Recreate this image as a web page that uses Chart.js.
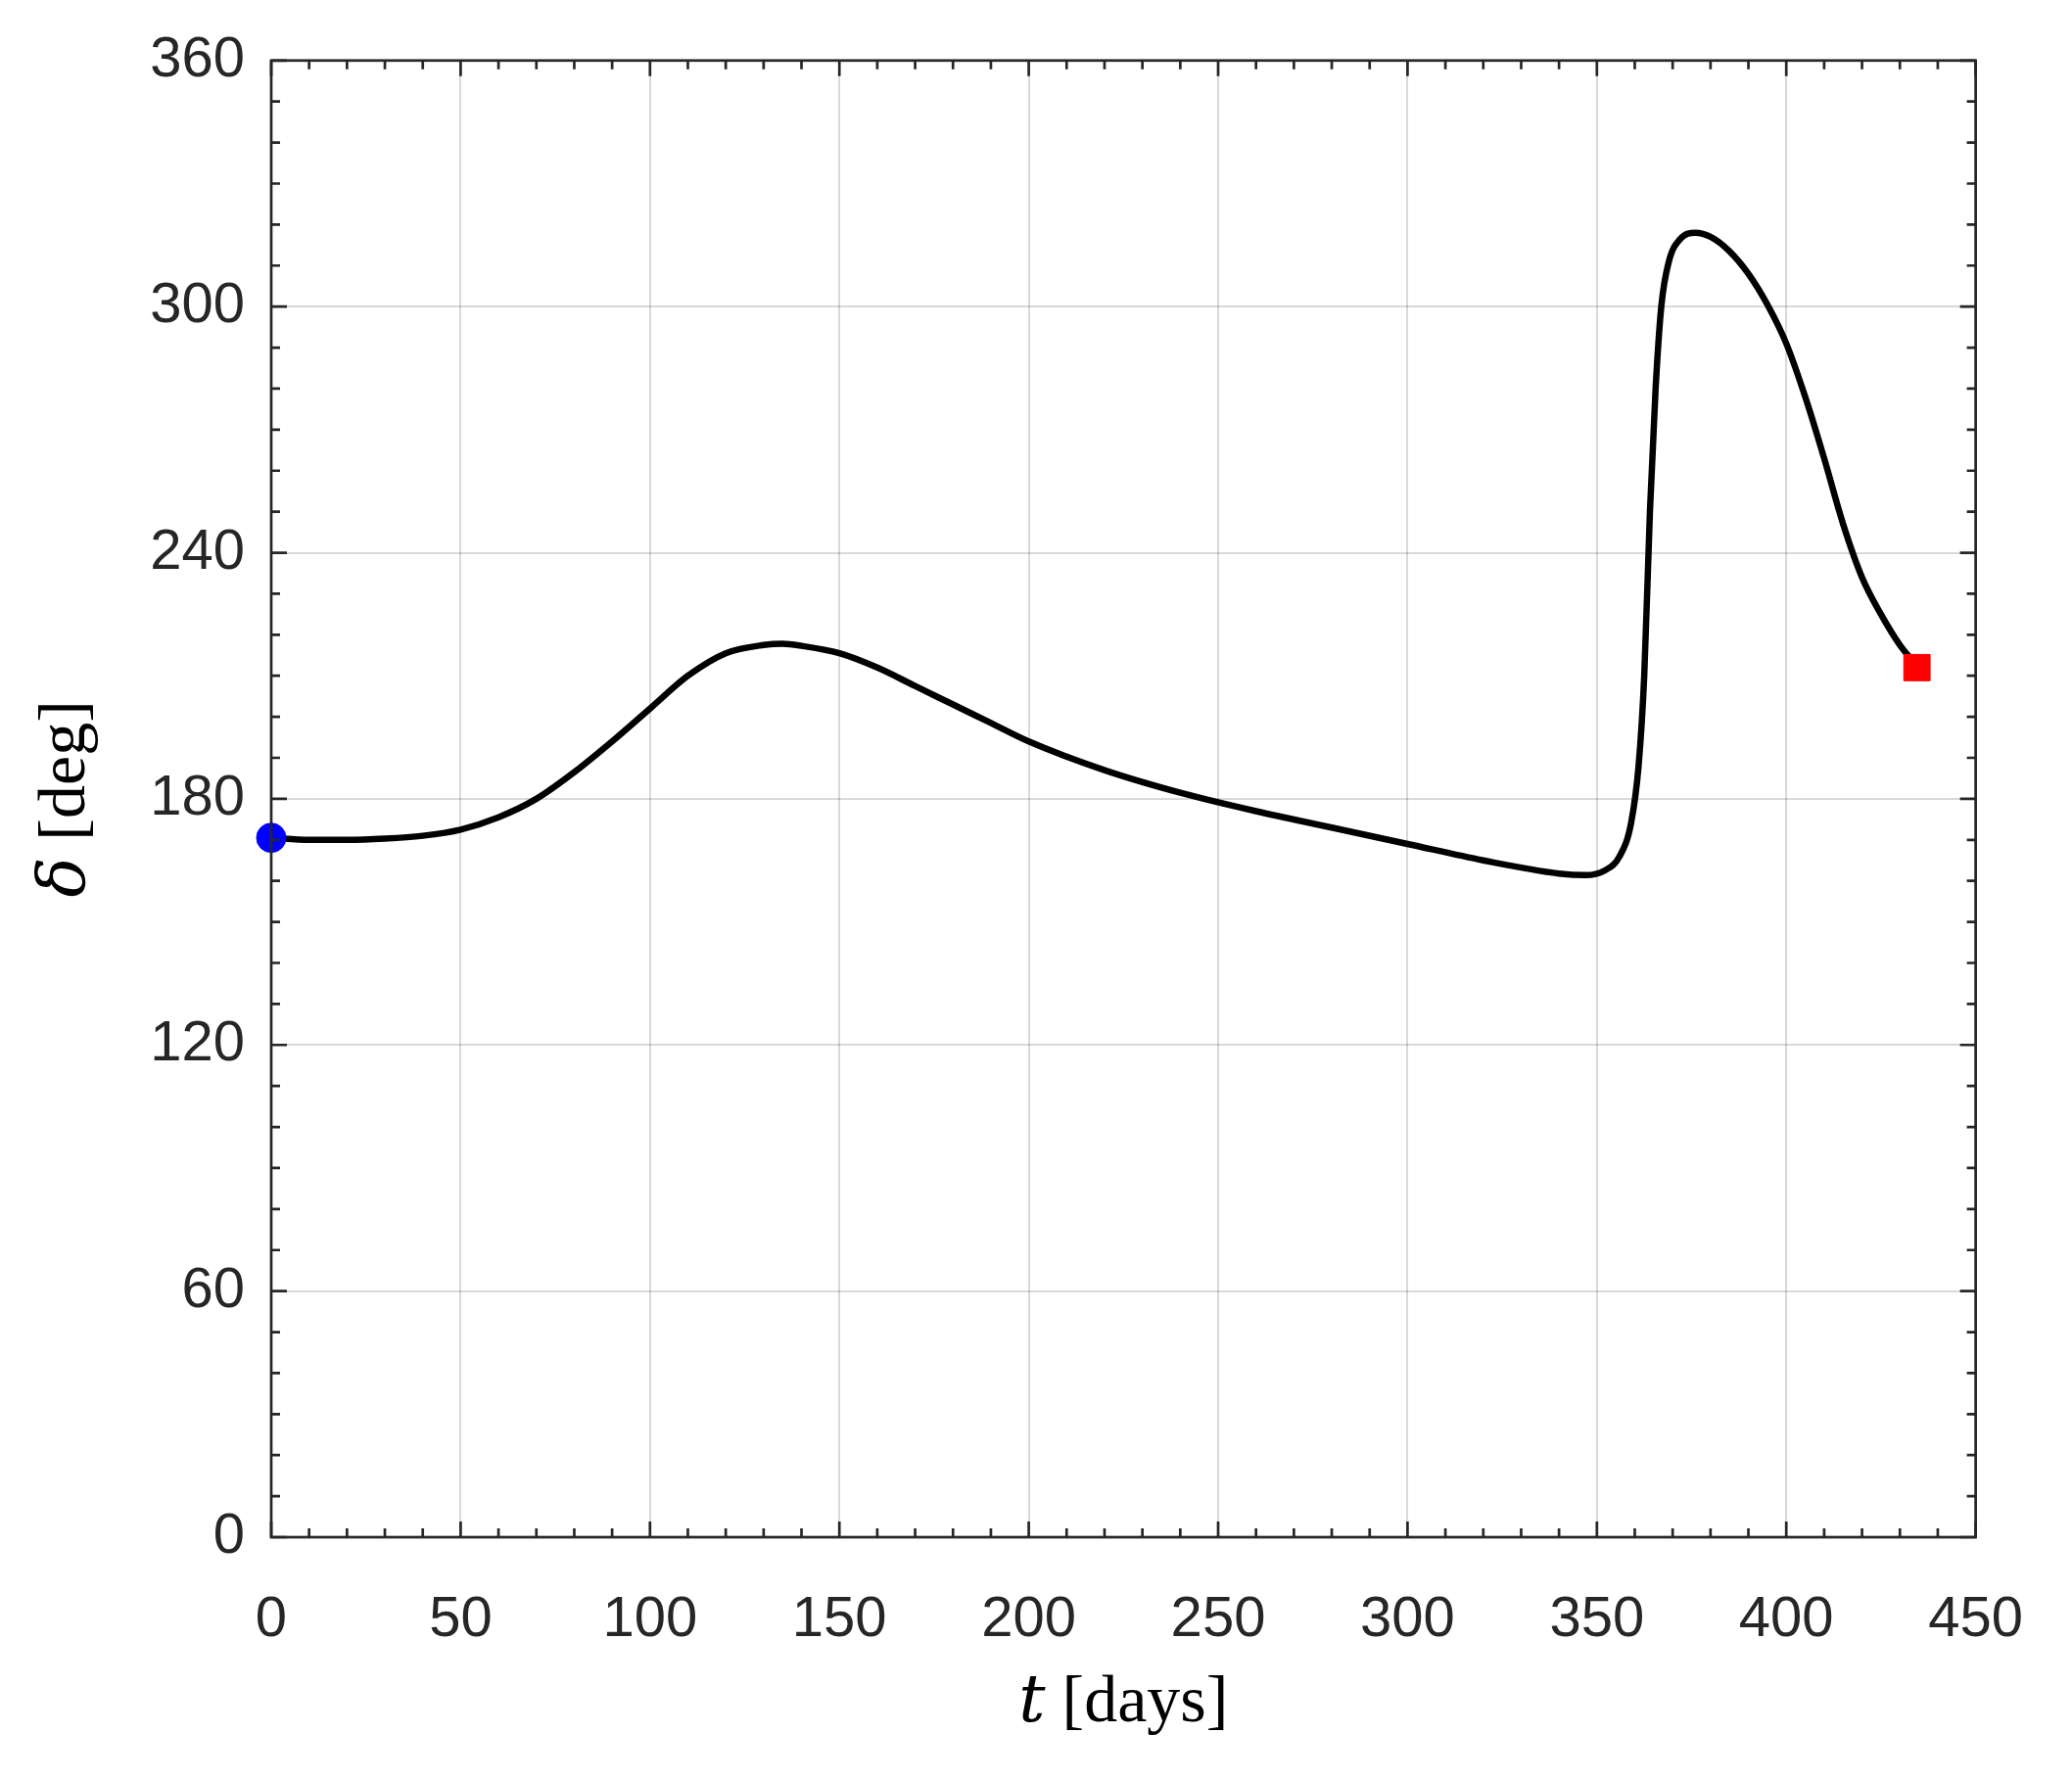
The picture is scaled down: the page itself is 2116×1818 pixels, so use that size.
<!DOCTYPE html>
<html><head><meta charset="utf-8">
<script src="https://cdn.jsdelivr.net/npm/chart.js@4"></script>
<style>html,body{margin:0;padding:0;background:#fff}#c{display:block}</style>
</head><body>
<div style="width:2116px;height:1818px"><canvas id="c" width="2116" height="1818"></canvas></div>
<script>
const tDays = [0,10,20,30,40,50,60,70,80,90,100,110,120,130,135,140,150,160,170,180,190,200,220,240,260,280,300,320,340,347,352,356,359,361,362.5,364,365.5,367,369,372,376,380,385,390,395,400,405,410,415,420,425,430,434];
const deltaDeg = [170.5,170,170,170.3,171,172.5,175.5,180,186.5,194,202,210,215.5,217.5,217.8,217.3,215.5,212,207.5,203,198.5,194,187,181.5,177,173,169,165,161.8,161.4,162.5,166,174,188,210,250,280,300,311,316.5,318,317,313.5,308,300.5,291,278,263,247,234,225,217.5,213];
const startPt = [{x:0,y:170.5}];
const endPt = [{x:434.5,y:212}];
const xTicks = [0,50,100,150,200,250,300,350,400,450];
const yTicks = [0,60,120,180,240,300,360];

const frame = {
  id:'frame',
  afterDraw(ch){
    const c=ch.ctx, a=ch.chartArea, xs=ch.scales.x, ys=ch.scales.y;
    c.save();
    c.strokeStyle='#262626'; c.lineWidth=2.7;
    c.strokeRect(a.left,a.top,a.right-a.left,a.bottom-a.top);
    c.beginPath();
    for(let v=0;v<=450;v+=10){
      const p=xs.getPixelForValue(v), L=(v%50===0)?16:9;
      c.moveTo(p,a.bottom);c.lineTo(p,a.bottom-L);
      c.moveTo(p,a.top);c.lineTo(p,a.top+L);
    }
    for(let v=0;v<=360;v+=10){
      const p=ys.getPixelForValue(v), L=(v%60===0)?16:9;
      c.moveTo(a.left,p);c.lineTo(a.left+L,p);
      c.moveTo(a.right,p);c.lineTo(a.right-L,p);
    }
    c.stroke();
    c.fillStyle='#000';
    c.textBaseline='middle';
    const F=68;
    const it='italic '+F+'px "DejaVu Serif","Liberation Serif",serif';
    const rm=F+'px "Liberation Serif","DejaVu Serif",serif';
    const cx=(a.left+a.right)/2, cy=1740;
    c.font=it; const tw=c.measureText('t').width;
    c.font=rm; const rest=' [days]', rw=c.measureText(rest).width;
    let x0=cx-(tw+rw)/2;
    c.textAlign='left';
    c.font=it; c.fillText('t',x0,cy);
    c.font=rm; c.fillText(rest,x0+tw,cy);
    c.translate(68,(a.top+a.bottom)/2); c.rotate(-Math.PI/2);
    c.font=it; const dw=c.measureText('δ').width;
    c.font=rm; const r2=' [deg]', r2w=c.measureText(r2).width;
    x0=-(dw+r2w)/2;
    c.font=it; c.fillText('δ',x0,0);
    c.font=rm; c.fillText(r2,x0+dw,0);
    c.restore();
  }
};

new Chart(document.getElementById('c'),{
  type:'scatter',
  data:{datasets:[
    {data:tDays.map((t,i)=>({x:t,y:deltaDeg[i]})),showLine:true,borderColor:'#000',borderWidth:6.5,pointRadius:0,cubicInterpolationMode:'monotone',order:2},
    {data:startPt,pointStyle:'circle',pointRadius:15,backgroundColor:'#0000ff',borderColor:'#0000ff',order:1,clip:false},
    {data:endPt,pointStyle:'rect',pointRadius:19,backgroundColor:'#ff0000',borderColor:'#ff0000',order:1,clip:false}
  ]},
  options:{
    responsive:false,animation:false,
    layout:{padding:{top:21,right:58,left:0,bottom:0}},
    plugins:{legend:{display:false},tooltip:{enabled:false}},
    scales:{
      x:{type:'linear',min:0,max:450,
        afterBuildTicks(s){s.ticks=xTicks.map(v=>({value:v}));},
        afterFit(s){s.height=248;},
        grid:{color:'rgba(0,0,0,0.15)',lineWidth:2,drawTicks:false},
        border:{display:false},
        ticks:{padding:50,color:'#262626',font:{family:'"Liberation Sans",Arial,sans-serif',size:58},maxRotation:0}},
      y:{type:'linear',min:0,max:360,
        afterBuildTicks(s){s.ticks=yTicks.map(v=>({value:v}));},
        afterFit(s){s.width=277;},
        grid:{color:'rgba(0,0,0,0.15)',lineWidth:2,drawTicks:false},
        border:{display:false},
        ticks:{padding:27,color:'#262626',font:{family:'"Liberation Sans",Arial,sans-serif',size:58}}}
    }
  },
  plugins:[frame]
});
</script>
</body></html>
